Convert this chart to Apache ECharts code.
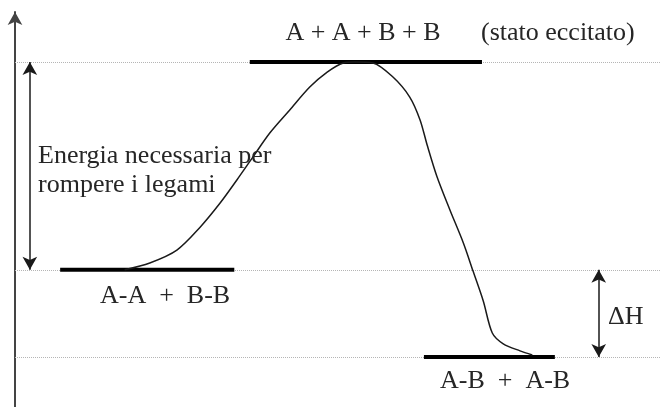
<!DOCTYPE html>
<html>
<head>
<meta charset="utf-8">
<script src="https://cdn.jsdelivr.net/npm/echarts@6/dist/echarts.min.js"></script>
<style>
  html, body { margin: 0; padding: 0; background: #fff; }
  #chart { width: 669px; height: 407px; }
</style>
</head>
<body>
<div id="chart"></div>
<script>
// livelli di energia (unità arbitrarie)
var levelNames = ["stato eccitato", "reagenti", "prodotti"];
var levelEnergy = [100, 0, -42];
var levelFrom = [36.4, 7.0, 63.4];
var levelTo = [72.4, 34.0, 83.7];

// profilo di reazione [coordinata, energia]
var profileX = [17.0, 20.9, 25.1, 28.7, 31.8, 34.4, 36.9, 39.5, 42.6, 45.7, 48.4, 50.9, 52.7, 55.5, 58.6, 61.2, 62.8, 63.9, 65.4, 67.4, 69.5, 71.0, 72.6, 74.0, 75.7, 78.3, 80.2];
var profileE = [0, 3.3, 9.5, 20.5, 32.1, 43.2, 54.3, 65.8, 76.9, 87.9, 95.1, 99.5, 100, 99.5, 92.7, 83.1, 72.1, 60, 45, 29, 13, -0.5, -15, -30.4, -35.6, -39, -41];

// frecce: energia necessaria e ΔH
var arrowX = [2.3, 90.5];
var arrowFrom = [100, 0];
var arrowTo = [0, -42];

var serif = "Liberation Serif, Times New Roman, serif";
var textColor = "#262626";

var chart = echarts.init(document.getElementById("chart"));

var series = [];

// linee tratteggiate dei livelli
series.push({
  type: "line",
  data: [],
  silent: true,
  z: 1,
  markLine: {
    symbol: ["none", "none"],
    silent: true,
    z: 1,
    label: { show: false },
    lineStyle: { type: "dotted", color: "#b5b5b5", width: 1 },
    data: levelEnergy.map(function(e) { return { yAxis: e }; })
  }
});

// livelli (tratti spessi)
levelEnergy.forEach(function(e, i) {
  series.push({
    type: "line",
    name: levelNames[i],
    data: [[levelFrom[i], e], [levelTo[i], e]],
    symbol: "none",
    silent: true,
    lineStyle: { color: "#000", width: 4 },
    z: 5
  });
});

// profilo
series.push({
  type: "line",
  data: profileX.map(function(x, i) { return [x, profileE[i]]; }),
  symbol: "none",
  smooth: 0.3,
  silent: true,
  lineStyle: { color: "#1a1a1a", width: 1.5 },
  z: 6
});

// frecce doppie
arrowX.forEach(function(x, i) {
  series.push({
    type: "line",
    data: [],
    silent: true,
    markLine: {
      silent: true,
      symbol: ["arrow", "arrow"],
      symbolSize: [11, 13],
      label: { show: false },
      lineStyle: { type: "solid", color: "#1a1a1a", width: 1.5 },
      data: [[{ coord: [x, arrowFrom[i]] }, { coord: [x, arrowTo[i]] }]]
    }
  });
});

var texts = [
  { t: "A + A + B + B", x: 363, y: 33, align: "center" },
  { t: "(stato eccitato)", x: 481, y: 33, align: "left" },
  { t: "Energia necessaria per", x: 38, y: 156, align: "left" },
  { t: "rompere i legami", x: 38, y: 185, align: "left" },
  { t: "A-A  +  B-B", x: 100, y: 296, align: "left" },
  { t: "\u0394H", x: 608, y: 317, align: "left" },
  { t: "A-B  +  A-B", x: 440, y: 381, align: "left" }
];

chart.setOption({
  backgroundColor: "#fff",
  animation: false,
  grid: { left: 15, right: 9, top: 12, bottom: 0, containLabel: false },
  xAxis: {
    type: "value",
    min: 0,
    max: 100,
    show: false
  },
  yAxis: {
    type: "value",
    min: -66,
    max: 124,
    axisLine: {
      show: true,
      symbol: ["none", "arrow"],
      symbolSize: [11, 13],
      symbolOffset: [0, 0],
      lineStyle: { color: "#444", width: 2 }
    },
    axisTick: { show: false },
    axisLabel: { show: false },
    splitLine: { show: false }
  },
  series: series,
  graphic: texts.map(function(d) {
    return {
      type: "text",
      x: d.x,
      y: d.y,
      silent: true,
      style: {
        text: d.t,
        fill: textColor,
        font: "26px " + serif,
        textAlign: d.align,
        textVerticalAlign: "middle"
      },
      z: 10
    };
  })
});
</script>
</body>
</html>
